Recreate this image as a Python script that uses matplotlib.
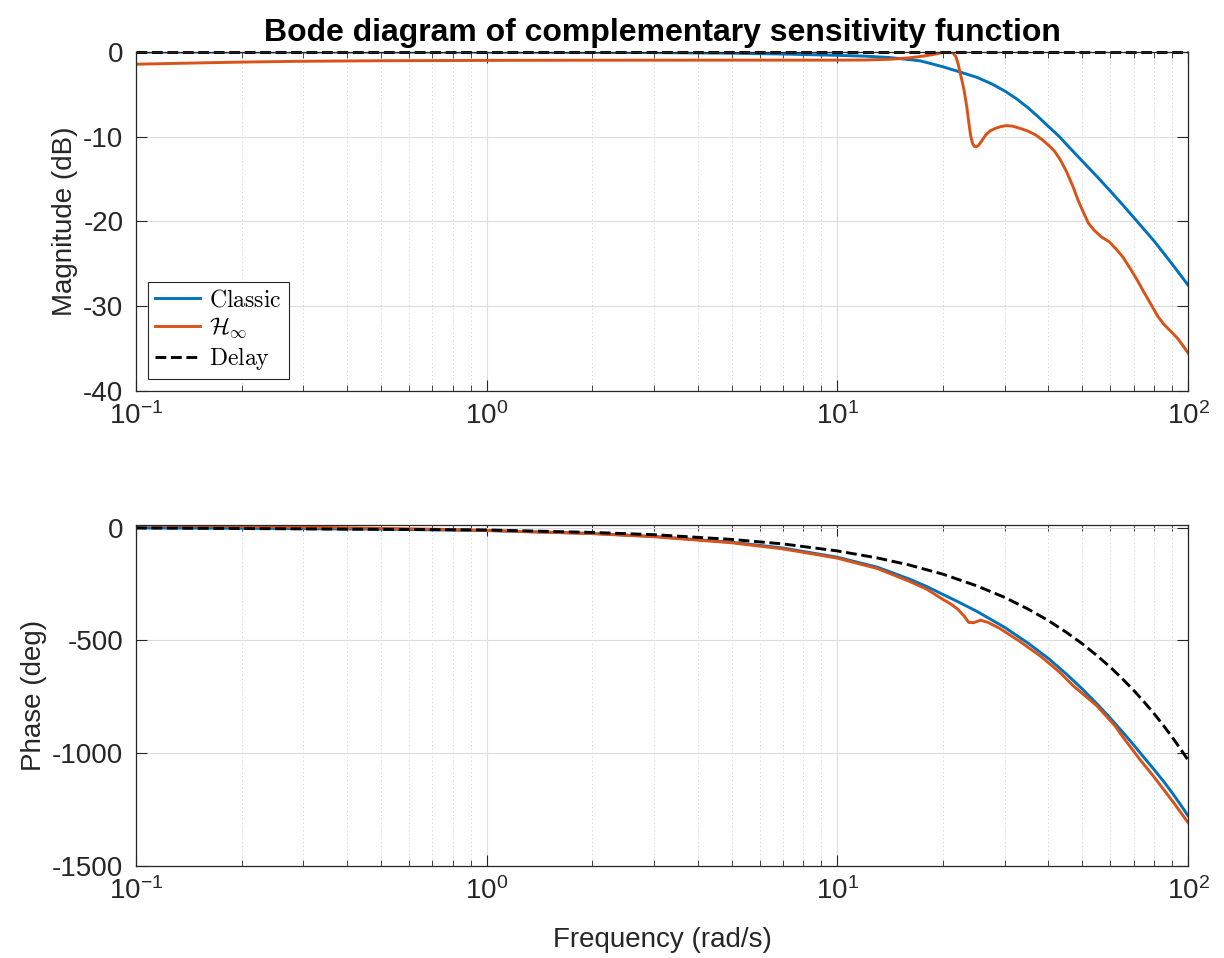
import numpy as np
import matplotlib.pyplot as plt
from matplotlib.ticker import LogLocator, NullFormatter

# frequency grids (rad/s) and magnitudes (dB)
w_mag_classic = [0.1, 0.2, 0.5, 1, 2, 3, 5, 7, 10, 12, 14, 16, 17.2, 18, 20,
                 22.5, 25, 27.5, 30, 32.5, 35, 37.5, 40, 43, 45, 50, 55, 60, 65,
                 73, 80, 90, 100]
mag_classic = [0.0, 0.0, -0.01, -0.02, -0.05, -0.08, -0.15, -0.25, -0.4, -0.5,
               -0.65, -0.9, -1.05, -1.25, -1.75, -2.4, -3.0, -3.75, -4.6, -5.55,
               -6.6, -7.7, -8.8, -10.0, -10.9, -12.9, -14.7, -16.4, -18.0,
               -20.4, -22.3, -25.0, -27.5]

w_mag_hinf = [0.1, 0.12, 0.15, 0.2, 0.3, 0.5, 1, 2, 5, 10, 12, 14.1, 16, 17.2,
              18.5, 19.6, 20.3, 20.9, 21.4, 21.8, 22.1, 22.4, 22.7, 23.0, 23.4,
              23.7, 24.0, 24.3, 24.6, 24.9, 25.3, 25.8, 26.5, 27.3, 28.3, 29.3,
              30.3, 31.5, 33.1, 35, 36.8, 38.5, 40, 41.6, 43.2, 45, 47.0, 48.7,
              50.4, 52, 53.9, 56.5, 59.6, 62.5, 65.2, 68.3, 71.6, 75, 78.7, 82,
              85.6, 89.5, 93.4, 96.5, 100]
mag_hinf = [-1.45, -1.38, -1.3, -1.2, -1.1, -1.04, -1.0, -0.98, -0.97, -0.97,
            -0.95, -0.87, -0.7, -0.55, -0.35, -0.15, -0.02, 0.0, -0.15, -0.6,
            -1.4, -2.5, -3.5, -4.6, -6.5, -8.3, -9.9, -10.8, -11.15, -11.2,
            -11.0, -10.5, -9.8, -9.3, -9.0, -8.8, -8.7, -8.75, -9.0, -9.35,
            -9.8, -10.4, -11.0, -11.7, -12.7, -14.1, -15.9, -17.6, -19.0,
            -20.2, -21.0, -21.8, -22.4, -23.3, -24.2, -25.5, -26.9, -28.4,
            -29.9, -31.2, -32.2, -33.0, -33.8, -34.6, -35.5]

w_mag_delay = [0.1, 1, 10, 100]
mag_delay = [0.0, 0.0, 0.0, 0.0]

# phases (deg)
w_ph_classic = [0.1, 0.2, 0.5, 1, 2, 3, 5, 7, 10, 13, 16, 18, 20, 22, 25, 30,
                35, 40, 45, 50, 55, 60, 65, 70, 75, 80, 85, 90, 95, 100]
ph_classic = [-1.3, -2.6, -6.5, -12.8, -25.6, -38.9, -64.5, -90, -131, -175,
              -227, -261, -296, -327, -371, -442, -512, -580, -649, -716, -781,
              -844, -905, -963, -1020, -1072, -1123, -1174, -1226, -1277]

w_ph_hinf = [0.1, 0.15, 0.2, 0.3, 0.5, 0.7, 1, 2, 3, 5, 7, 10, 13, 16, 18, 20,
             21, 22, 23, 23.7, 24.5, 25.6, 27, 29, 33, 38, 43, 47, 50.4, 52, 55,
             58.4, 62, 65, 73.1, 80, 91.1, 100]
ph_hinf = [12, 8.5, 6, 2.5, -3, -6.5, -12, -26, -40, -67, -94, -135, -181, -237,
           -273, -318, -337, -360, -392, -420, -421, -410, -421, -446, -502,
           -570, -640, -700, -740, -758, -790, -835, -880, -925, -1030, -1105,
           -1220, -1307]

w_ph_delay = [0.1, 1, 2, 3, 5, 7, 10, 13, 16, 20, 25, 30, 35, 40, 45, 50, 55,
              60, 65, 70, 75, 80, 85, 90, 95, 100]
ph_delay = [-1, -10, -21, -31, -52, -72, -103, -134, -165, -206, -258, -309,
            -361, -412, -464, -515, -567, -618, -670, -721, -773, -824, -876,
            -927, -979, -1030]

c_classic = '#0072BD'
c_hinf = '#D95319'
axis_col = '#262626'
fs = 20

plt.rcParams['font.family'] = ['Liberation Sans', 'DejaVu Sans']
plt.rcParams['mathtext.fontset'] = 'custom'
plt.rcParams['mathtext.rm'] = 'Liberation Sans'
plt.rcParams['mathtext.it'] = 'Liberation Sans:italic'
plt.rcParams['axes.unicode_minus'] = False


def style_axes(ax):
    ax.set_xscale('log')
    ax.set_xlim(0.1, 100)
    ax.xaxis.set_major_locator(LogLocator(base=10, numticks=10))
    ax.xaxis.set_minor_locator(LogLocator(base=10, subs=np.arange(2, 10), numticks=10))
    ax.xaxis.set_minor_formatter(NullFormatter())
    ax.tick_params(which='both', direction='in', top=True, right=True,
                   colors=axis_col, labelsize=fs)
    ax.tick_params(which='major', length=8, width=0.8)
    ax.tick_params(which='minor', length=4, width=0.6)
    ax.tick_params(axis='y', pad=9)
    ax.tick_params(axis='x', pad=8)
    for s in ax.spines.values():
        s.set_color(axis_col)
        s.set_linewidth(0.9)
    ax.grid(which='major', color='#dedede', lw=0.8, ls='-')
    ax.grid(which='minor', axis='x', color='#cfcfcf', lw=0.7, ls=(0, (1, 3)))
    ax.set_axisbelow(True)


fig = plt.figure(figsize=(12.24, 9.58), dpi=100)
ax1 = fig.add_axes([0.1111, 0.5919, 0.8595, 0.3539])
ax2 = fig.add_axes([0.1111, 0.0960, 0.8595, 0.3560])

# magnitude
ax1.plot(w_mag_classic, mag_classic, color=c_classic, lw=2.1, label=r'$\mathrm{Classic}$')
ax1.plot(w_mag_hinf, mag_hinf, color=c_hinf, lw=2.1, label=r'$\mathcal{H}_\infty$')
ax1.plot(w_mag_delay, mag_delay, 'k--', lw=2.1, label=r'$\mathrm{Delay}$', clip_on=False)
style_axes(ax1)
ax1.set_ylim(-40, 0)
ax1.set_yticks([-40, -30, -20, -10, 0])
ax1.set_ylabel('Magnitude (dB)', fontsize=fs, color=axis_col, labelpad=4)
ax1.set_title('Bode diagram of complementary sensitivity function',
              fontsize=23, fontweight='bold', pad=8)

leg = ax1.legend(loc='lower left', fontsize=17, fancybox=False,
                 framealpha=1, edgecolor=axis_col, borderpad=0.3,
                 handlelength=1.9, handletextpad=0.4, labelspacing=0.2,
                 borderaxespad=0.5)
leg.get_frame().set_linewidth(0.8)
for t in leg.get_texts():
    t.set_math_fontfamily('cm')

# phase
ax2.plot(w_ph_classic, ph_classic, color=c_classic, lw=2.1)
ax2.plot(w_ph_hinf, ph_hinf, color=c_hinf, lw=2.1)
ax2.plot(w_ph_delay, ph_delay, 'k--', lw=2.1)
style_axes(ax2)
ax2.set_ylim(-1500, 12)
ax2.set_yticks([-1500, -1000, -500, 0])
ax2.set_ylabel('Phase (deg)', fontsize=fs, color=axis_col, labelpad=4)
ax2.set_xlabel('Frequency (rad/s)', fontsize=fs, color=axis_col, labelpad=16)

fig.savefig('out.png', dpi=100)
